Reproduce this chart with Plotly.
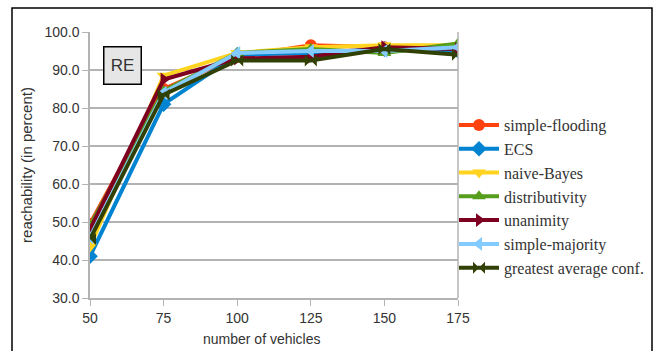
import plotly.graph_objects as go

vehicles = [50, 75, 100, 125, 150, 175]
series_names = ["simple-flooding", "ECS", "naive-Bayes", "distributivity",
                "unanimity", "simple-majority", "greatest average conf."]
simple_flooding = [49.5, 85.0, 93.5, 96.5, 96.0, 96.0]
ecs = [41.0, 81.0, 94.0, 94.5, 95.5, 95.0]
naive_bayes = [43.5, 88.5, 94.5, 96.0, 96.5, 96.5]
distributivity = [49.0, 84.5, 94.5, 95.5, 94.5, 97.0]
unanimity = [48.0, 87.5, 93.0, 93.5, 96.0, 95.5]
simple_majority = [46.0, 84.0, 94.5, 95.0, 95.0, 96.0]
greatest_avg = [45.5, 83.5, 92.5, 92.5, 95.5, 94.0]
values = [simple_flooding, ecs, naive_bayes, distributivity, unanimity,
          simple_majority, greatest_avg]
colors = ["#ff420e", "#0084d1", "#ffd320", "#579d1c", "#7e0021", "#83caff", "#314004"]
symbols = ["circle", "diamond", "triangle-down", "triangle-up", "triangle-right",
           "triangle-left", "bowtie"]
y_ticks = [30, 40, 50, 60, 70, 80, 90, 100]

fig = go.Figure()
for name, vals, c, s in zip(series_names, values, colors, symbols):
    fig.add_trace(go.Scatter(x=vehicles, y=vals, name=name, mode="lines+markers",
                             line=dict(color=c, width=4),
                             marker=dict(symbol=s, size=12, color=c)))

W, H = 662, 351
L, R, T, B = 90, 204, 32, 53
pw, ph = W - L - R, H - T - B

def px(xp):
    return (xp - L) / pw

def py(yp):
    return (H - B - yp) / ph

fig.update_layout(
    width=W, height=H, margin=dict(l=L, r=R, t=T, b=B, autoexpand=False),
    paper_bgcolor="white", plot_bgcolor="white",
    font=dict(family="Liberation Sans, Arial", color="#333333", size=14),
    xaxis=dict(range=[50, 175], tickvals=vehicles, showgrid=False, automargin=False,
               showline=True, linecolor="#b3b3b3", linewidth=1.5, mirror=False,
               ticks="outside", ticklen=6, tickcolor="#b3b3b3",
               tickfont=dict(size=14, color="#333333")),
    yaxis=dict(range=[30, 100], tickvals=y_ticks, tickformat=".1f", automargin=False,
               showgrid=True, gridcolor="#b3b3b3", gridwidth=1.5,
               showline=True, linecolor="#b3b3b3", linewidth=1.5,
               ticks="outside", ticklen=6, tickcolor="#b3b3b3", zeroline=False,
               tickfont=dict(size=14, color="#333333"),
               title=dict(text="reachability (in percent)", standoff=8,
                          font=dict(size=15, color="#333333"))),
    legend=dict(x=px(454), y=py(108), xanchor="left", yanchor="top",
                font=dict(family="Liberation Serif, Times New Roman", size=16, color="#333333"),
                bgcolor="rgba(0,0,0,0)", tracegroupgap=0, itemwidth=40),
    showlegend=True,
)
# x-axis title
fig.add_annotation(xref="paper", yref="paper", x=px(262), y=py(339), text="number of vehicles",
                   xanchor="center", yanchor="middle", showarrow=False,
                   font=dict(family="Liberation Sans Narrow, Liberation Sans", size=14, color="#333333"))
# right border of plot area
fig.add_shape(type="line", xref="paper", yref="paper", x0=1, x1=1, y0=0, y1=1,
              line=dict(color="#b3b3b3", width=1.5))
# outer frame
fig.add_shape(type="rect", xref="paper", yref="paper",
              x0=px(12), x1=px(652), y0=py(380), y1=py(8),
              line=dict(color="black", width=1.5), fillcolor="rgba(0,0,0,0)", layer="below")
# RE label box
fig.add_annotation(xref="paper", yref="paper", x=px(122), y=py(65), text="RE",
                   xanchor="center", yanchor="middle",
                   showarrow=False, font=dict(size=17, color="#333333"),
                   bgcolor="#e6e6e6", bordercolor="black", borderwidth=1.5,
                   width=34, height=34)

fig.write_html("out.html", config={"displayModeBar": False},
               post_script="document.body.style.margin='0px';")
